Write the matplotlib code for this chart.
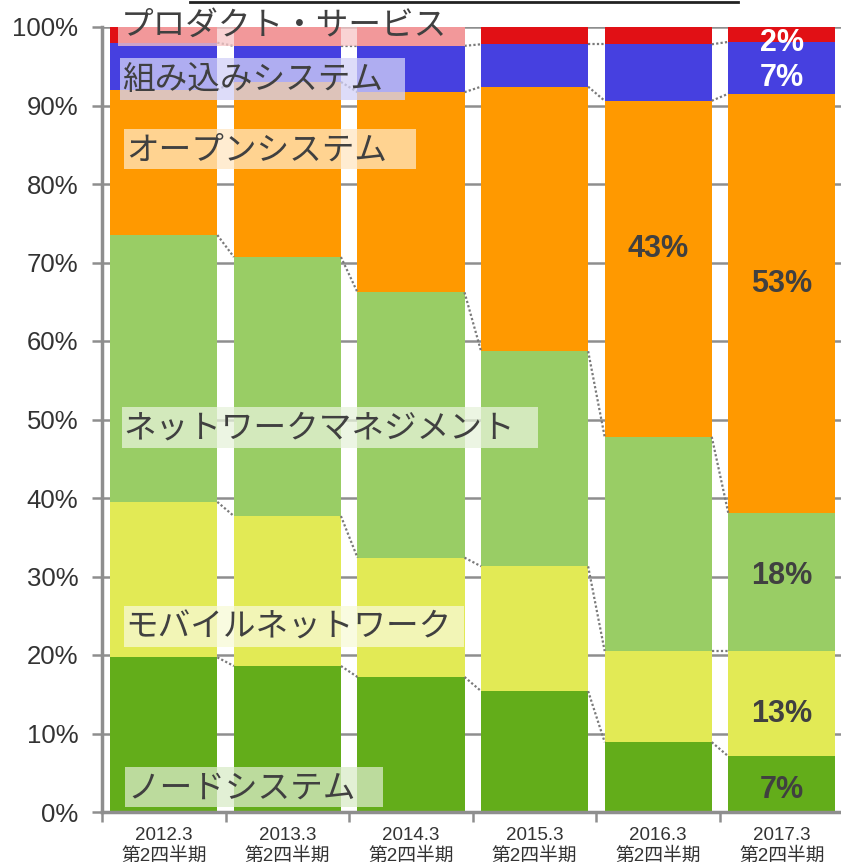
import matplotlib
matplotlib.use('Agg')
import matplotlib.pyplot as plt
import numpy as np
from matplotlib.patches import Rectangle
from matplotlib.lines import Line2D

# data (percent share per period, bottom -> top)
periods = ['2012.3', '2013.3', '2014.3', '2015.3', '2016.3', '2017.3']
quarter = '第2四半期'
series_names = ['ノードシステム', 'モバイルネットワーク', 'ネットワークマネジメント',
                'オープンシステム', '組み込みシステム', 'プロダクト・サービス']
node = [19.7, 18.6, 17.2, 15.4, 8.9, 7.1]
mobile = [19.8, 19.1, 15.2, 15.9, 11.6, 13.4]
netmgmt = [34.0, 33.0, 33.8, 27.4, 27.3, 17.6]
opensys = [18.5, 22.3, 25.5, 33.7, 42.8, 53.4]
embedded = [6.0, 4.6, 5.9, 5.4, 7.2, 6.6]
product = [2.0, 2.4, 2.4, 2.2, 2.2, 1.9]
series = [node, mobile, netmgmt, opensys, embedded, product]
colors = ['#63ad1a', '#e2ea55', '#99cd65', '#ff9900', '#4640e0', '#e11015']

# which segments get a value label: (bar index, series index, text colour, nudge)
value_labels = [(4, 3, '#404040', 2.5), (5, 0, '#404040', -0.7), (5, 1, '#404040', -1.3),
                (5, 2, '#404040', 0.8), (5, 3, '#404040', 2.4), (5, 4, 'white', -1.3),
                (5, 5, 'white', -1.1)]

W, H = 841, 867
fig = plt.figure(figsize=(W / 100, H / 100), dpi=100)
ax_l, ax_b, ax_t = 102, 812, 27
spacing = 123.6
ax = fig.add_axes([ax_l / W, (H - ax_b) / H, 6 * spacing / W, (ax_b - ax_t) / H])

x = np.arange(len(periods))
width = 0.866
bottom = np.zeros(len(periods))
tops = []
for vals, col in zip(series, colors):
    vals = np.array(vals)
    ax.bar(x, vals, width, bottom=bottom, color=col, zorder=2, linewidth=0)
    bottom = bottom + vals
    tops.append(bottom.copy())

# dotted connectors between segment tops
for top in tops[:-1]:
    for i in range(len(periods) - 1):
        ax.plot([i + width / 2, i + 1 - width / 2], [top[i], top[i + 1]],
                ls=(0, (1, 1)), color='#7a7a7a', lw=1.6, zorder=3)

ax.set_xlim(-0.5, len(periods) - 0.5)
ax.set_ylim(0, 100)
ax.set_yticks(np.arange(0, 101, 10))
ax.set_yticklabels([f'{v}%' for v in range(0, 101, 10)], family='Liberation Sans')
ax.yaxis.grid(True, color='#8e8e8e', lw=1.8)
ax.set_axisbelow(True)
ax.tick_params(axis='y', length=7, width=1.8, color='#8e8e8e', pad=10,
               labelsize=18.5, labelcolor='#333333')

ax.set_xticks(x)
ax.set_xticklabels([f'{p}\n{quarter}' for p in periods],
                   family=['Liberation Sans', 'Noto Sans CJK JP'])
ax.set_xticks(np.arange(-0.5, len(periods)), minor=True)
ax.tick_params(axis='x', which='major', length=0, pad=11, labelsize=13.5,
               labelcolor='#333333')
ax.tick_params(axis='x', which='minor', length=7, width=1.8, color='#8e8e8e')
for s in ['top', 'right']:
    ax.spines[s].set_visible(False)
for s in ['left', 'bottom']:
    ax.spines[s].set_color('#8e8e8e')
    ax.spines[s].set_linewidth(2.5)

# value labels
for bi, si, tc, nudge in value_labels:
    v = series[si][bi]
    yc = tops[si][bi] - v / 2 + nudge
    ax.text(bi, yc, f'{round(v)}%', ha='center', va='center', color=tc,
            fontsize=22, fontweight='bold', family='Liberation Sans', zorder=5)


# series name boxes (pixel layout -> data coords)
def px_x(px):
    return -0.5 + (px - ax_l) / spacing


def px_y(py):
    return (ax_b - py) / ((ax_b - ax_t) / 100)


boxes = [  # x0, x1, y_top, y_bottom, text_left, text_center_y
    (125, 383, 767, 807, 127, 789),
    (124, 464, 606, 647, 125, 628),
    (122, 538, 407, 448, 123, 429),
    (124, 416, 129, 169, 126, 151),
    (120, 405, 58, 100, 122, 80),
    (118, 465, 20, 46, 121, 26),
]
for (x0, x1, yt, yb, tl, tc), name, col in zip(boxes, series_names, colors):
    ax.add_patch(Rectangle((px_x(x0), px_y(yb)), px_x(x1) - px_x(x0), px_y(yt) - px_y(yb),
                           facecolor='white', alpha=0.7, lw=0, zorder=4))
    ax.add_patch(Rectangle((px_x(x0), px_y(yb)), px_x(x1) - px_x(x0), px_y(yt) - px_y(yb),
                           facecolor=col, alpha=0.18, lw=0, zorder=4))
    ax.text(px_x(tl), px_y(tc), name, ha='left', va='center', fontsize=23.5,
            color='#404040', family=['Noto Sans CJK JP', 'DejaVu Sans'], zorder=6,
            clip_on=False)

fig.add_artist(Line2D([190 / W, 738 / W], [1 - 1.5 / H] * 2, color='#222222', lw=2))

fig.savefig('out.png', dpi=100)
